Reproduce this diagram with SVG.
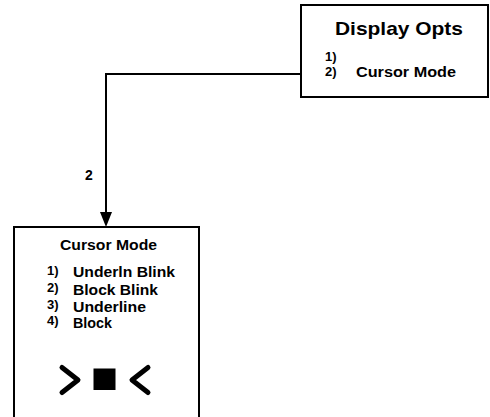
<svg xmlns="http://www.w3.org/2000/svg" width="490" height="417" viewBox="0 0 490 417">
  <style>
    .box { fill: #ffffff; stroke: #000000; stroke-width: 2; }
    .wire { fill: none; stroke: #000000; stroke-width: 2; }
    .t { font-family: "Liberation Sans", Arial, sans-serif; font-weight: bold; fill: #000000; }
    .glyph { fill: none; stroke: #000000; stroke-width: 5; stroke-linecap: round; stroke-linejoin: round; }
  </style>
  <rect width="490" height="417" fill="#ffffff"/>

  <g id="connectors">
    <polyline class="wire" points="301,74 106,74 106,212"/>
    <path d="M100,212 L112,212 L106,227 Z" fill="#000000"/>
    <text class="t" x="85" y="180" font-size="14">2</text>
  </g>

  <g id="display-opts">
    <rect class="box" x="301" y="5" width="187" height="92"/>
    <text class="t" x="335" y="35" font-size="18.5" textLength="128" lengthAdjust="spacingAndGlyphs">Display Opts</text>
    <text class="t" x="325" y="61" font-size="13">1)</text>
    <text class="t" x="325" y="76" font-size="13">2)</text>
    <text class="t" x="356" y="77" font-size="14" textLength="100" lengthAdjust="spacingAndGlyphs">Cursor Mode</text>
  </g>

  <g id="cursor-mode">
    <rect class="box" x="14" y="227" width="185" height="200"/>
    <text class="t" x="60" y="250" font-size="14" textLength="97" lengthAdjust="spacingAndGlyphs">Cursor Mode</text>
    <text class="t" x="47" y="275" font-size="13">1)</text>
    <text class="t" x="47" y="292" font-size="13">2)</text>
    <text class="t" x="47" y="309" font-size="13">3)</text>
    <text class="t" x="47" y="325" font-size="13">4)</text>
    <text class="t" x="73" y="277" font-size="14" textLength="102" lengthAdjust="spacingAndGlyphs">Underln Blink</text>
    <text class="t" x="73" y="295" font-size="14" textLength="85" lengthAdjust="spacingAndGlyphs">Block Blink</text>
    <text class="t" x="73" y="312" font-size="14" textLength="73" lengthAdjust="spacingAndGlyphs">Underline</text>
    <text class="t" x="73" y="328" font-size="14" textLength="39" lengthAdjust="spacingAndGlyphs">Block</text>
    <polyline class="glyph" points="62,367.5 78,380 62,392.5"/>
    <rect x="93.5" y="368.5" width="22" height="21.5" fill="#000000"/>
    <polyline class="glyph" points="148,367.5 132,380 148,392.5"/>
  </g>
</svg>
